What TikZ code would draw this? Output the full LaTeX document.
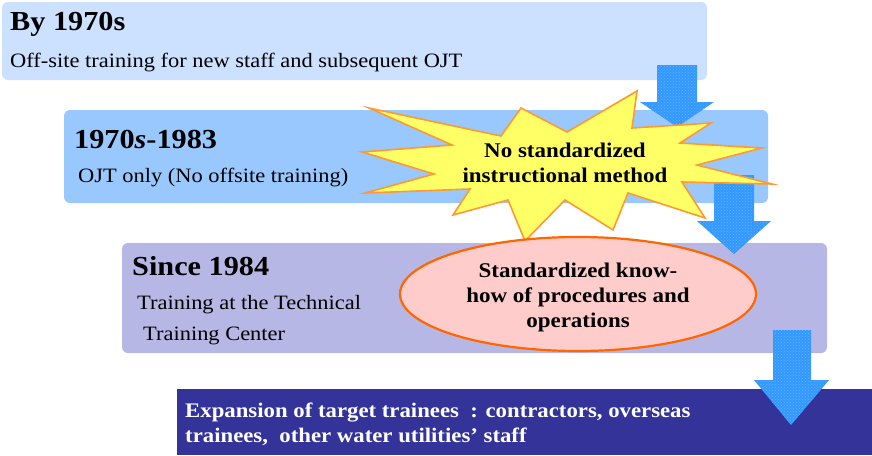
\documentclass[tikz,border=0pt]{standalone}
\usepackage{fontspec}
\setmainfont{Liberation Serif}[FakeStretch=1.1]
\usetikzlibrary{patterns}
\definecolor{boxA}{HTML}{CCE0FF}
\definecolor{boxB}{HTML}{99C8FF}
\definecolor{boxC}{HTML}{B7B7E6}
\definecolor{boxD}{HTML}{333399}
\definecolor{arrowblue}{HTML}{3399FF}
\definecolor{arrowdot}{HTML}{5FB2FF}
\definecolor{burstfill}{HTML}{FFFF66}
\definecolor{burstline}{HTML}{FF9933}
\definecolor{ellfill}{HTML}{FFCCCC}
\definecolor{ellline}{HTML}{FF6600}
\tikzset{
  panel/.style={rounded corners=6pt},
  head/.style={anchor=base west, inner sep=0pt, font=\fontsize{27.5}{30}\selectfont\bfseries},
  body/.style={anchor=base west, inner sep=0pt, font=\fontsize{20.4}{24}\selectfont},
  blockarrow/.style={fill=arrowblue, postaction={pattern=crosshatch dots, pattern color=arrowdot}},
  callout/.style={align=center, inner sep=0pt, font=\fontsize{20.9}{25}\selectfont\bfseries},
}
\begin{document}
\begin{tikzpicture}[x=1pt,y=-1pt]
\useasboundingbox (0,0) rectangle (872,455);
% panels
\fill[boxA,panel] (2,2) rectangle (707,80);
\fill[boxB,panel] (64,110) rectangle (768,203);
\fill[boxC,panel] (122,243) rectangle (827,353);
\fill[boxD] (177,389) rectangle (872,455);
% texts
\node[head] (h1) at (10,30) {By 1970s};
\node[body] (b1) at (10,67) {Off-site training for new staff and subsequent OJT};
\node[head] (h2) at (74,148) {1970\textit{s}-1983};
\node[body] (b2) at (78,182) {OJT only (No offsite training)};
\node[head] (h3) at (132,275) {Since 1984};
\node[body] (b3) at (137,309) {Training at the Technical};
\node[body] (b4) at (143,340) {Training Center};
\node[anchor=north west, inner sep=0pt, align=left, text=white,
      font=\fontsize{20.7}{24.5}\selectfont\bfseries] (b5) at (185,403)
  {Expansion of target trainees\ \ : contractors, overseas\\trainees,\ \ other water utilities’ staff};
% arrows
\path[blockarrow] (657,65) -- (697,65) -- (697,102) -- (714,102) -- (677,127) -- (640,102) -- (657,102) -- cycle;
\path[blockarrow] (714,175) -- (754,175) -- (754,221) -- (771,221) -- (734,254) -- (697,221) -- (714,221) -- cycle;
% starburst
\filldraw[fill=burstfill, draw=burstline, line width=1.6pt, line join=miter]
  (369,108) -- (501,136) -- (521,108) -- (567,132) -- (637,91) -- (632,128) -- (711,123) -- (680,143)
  -- (762,148) -- (697,165) -- (772,184) -- (682,182) -- (705,218) -- (628,193) -- (613,230) -- (565,200)
  -- (525,241) -- (508,200) -- (453,215) -- (470,189) -- (365,193) -- (434,174) -- (362,152) -- (452,145) -- cycle;
\node[callout] (burst) at (565,163) {No standardized\\instructional method};
% ellipse
\filldraw[fill=ellfill, draw=ellline, line width=2.2pt] (578,294) ellipse [x radius=178pt, y radius=57pt];
\node[callout] (ell) at (578,297) {Standardized know-\\how of procedures and\\operations};
% last arrow
\path[blockarrow] (773,330) -- (811,330) -- (811,380) -- (829,380) -- (791,425) -- (754,380) -- (773,380) -- cycle;
\end{tikzpicture}
\end{document}
